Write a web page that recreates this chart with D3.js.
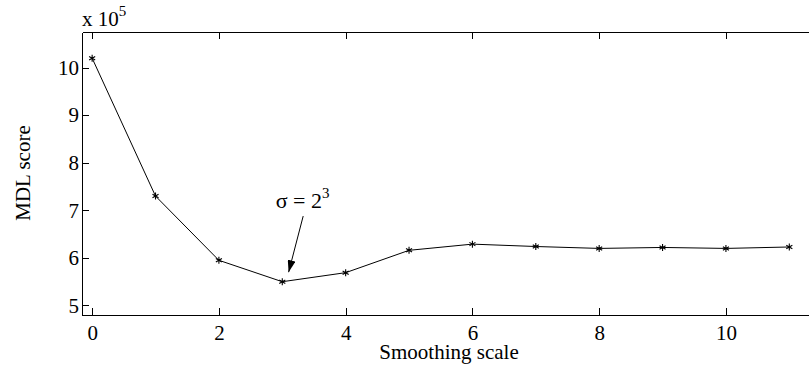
<!DOCTYPE html>
<html>
<head>
<meta charset="utf-8">
<script src="https://cdn.jsdelivr.net/npm/d3@7"></script>
<style>
  body { margin: 0; background: #fff; }
  svg { display: block; font-family: "Liberation Serif", "DejaVu Serif", serif; }
  .axis path, .axis line { stroke: #000; stroke-width: 1; shape-rendering: crispEdges; }
  .axis text { font-family: "Liberation Serif", serif; font-size: 21px; fill: #000; }
</style>
</head>
<body>
<div id="chart"></div>
<script>
// smoothing scale on x, MDL score (x 10^5) on y
var scales = [0, 1, 2, 3, 4, 5, 6, 7, 8, 9, 10, 11];
var mdlScores = [10.2, 7.3, 5.95, 5.5, 5.69, 6.16, 6.29, 6.24, 6.2, 6.22, 6.2, 6.23];
var xTicks = [0, 2, 4, 6, 8, 10];
var yTicks = [5, 6, 7, 8, 9, 10];

var W = 809, H = 366;
var margin = { top: 32, left: 82, bottom: 51 };

var svg = d3.select("#chart").append("svg")
    .attr("width", W)
    .attr("height", H);

// plot runs off the right edge of the picture, like the original
var xscale = d3.scaleLinear().domain([-0.16, 11.5]).range([margin.left, margin.left + 739]);
var yscale = d3.scaleLinear().domain([4.8, 10.75]).range([H - margin.bottom, margin.top]);

// bottom axis, ticks pointing inward
svg.append("g")
    .attr("class", "axis")
    .attr("transform", "translate(0," + (H - margin.bottom) + ")")
    .call(d3.axisBottom(xscale).tickValues(xTicks).tickSizeInner(-7).tickSizeOuter(0).tickPadding(10).tickFormat(d3.format("d")));

// top frame line with ticks, no labels
svg.append("g")
    .attr("class", "axis")
    .attr("transform", "translate(0," + margin.top + ")")
    .call(d3.axisTop(xscale).tickValues(xTicks).tickSizeInner(-7).tickSizeOuter(0).tickFormat(""));

// left axis
svg.append("g")
    .attr("class", "axis")
    .attr("transform", "translate(" + margin.left + ",0)")
    .call(d3.axisLeft(yscale).tickValues(yTicks).tickSizeInner(-7).tickSizeOuter(0).tickPadding(3).tickFormat(d3.format("d")));

// the line
var line = d3.line()
    .x(function(d, i) { return xscale(scales[i]); })
    .y(function(d) { return yscale(d); });

svg.append("path")
    .datum(mdlScores)
    .attr("d", line)
    .attr("fill", "none")
    .attr("stroke", "#000")
    .attr("stroke-width", 1);

// asterisk markers
svg.selectAll(".marker")
    .data(mdlScores)
    .enter()
    .append("path")
    .attr("class", "marker")
    .attr("transform", function(d, i) { return "translate(" + xscale(scales[i]) + "," + yscale(d) + ")"; })
    .attr("d", d3.symbol().type(d3.symbolAsterisk).size(34))
    .attr("fill", "none")
    .attr("stroke", "#000")
    .attr("stroke-width", 1.1);

// exponent label
var expo = svg.append("text")
    .attr("x", margin.left)
    .attr("y", 26)
    .attr("font-size", "21px")
    .text("x 10");
expo.append("tspan")
    .attr("dy", -10)
    .attr("font-size", "15px")
    .text("5");

// axis titles
svg.append("text")
    .attr("x", 449)
    .attr("y", 359)
    .attr("text-anchor", "middle")
    .attr("font-size", "21px")
    .text("Smoothing scale");

svg.append("text")
    .attr("transform", "rotate(-90)")
    .attr("x", -173)
    .attr("y", 30)
    .attr("text-anchor", "middle")
    .attr("font-size", "21px")
    .text("MDL score");

// annotation for the minimum
svg.append("defs").append("marker")
    .attr("id", "head")
    .attr("viewBox", "0 0 12 8")
    .attr("refX", 12)
    .attr("refY", 4)
    .attr("markerWidth", 12)
    .attr("markerHeight", 8)
    .attr("markerUnits", "userSpaceOnUse")
    .attr("orient", "auto")
    .append("path")
    .attr("d", "M0,0 L12,4 L0,8 z")
    .attr("fill", "#000");

svg.append("line")
    .attr("x1", xscale(3.33))
    .attr("y1", yscale(6.88))
    .attr("x2", xscale(3.1))
    .attr("y2", yscale(5.7))
    .attr("stroke", "#000")
    .attr("stroke-width", 1)
    .attr("marker-end", "url(#head)");

var ann = svg.append("text")
    .attr("x", xscale(3.32))
    .attr("y", yscale(7.06))
    .attr("text-anchor", "middle")
    .attr("font-size", "22px")
    .text("\u03c3 = 2");
ann.append("tspan")
    .attr("dy", -10)
    .attr("font-size", "15px")
    .text("3");
</script>
</body>
</html>
